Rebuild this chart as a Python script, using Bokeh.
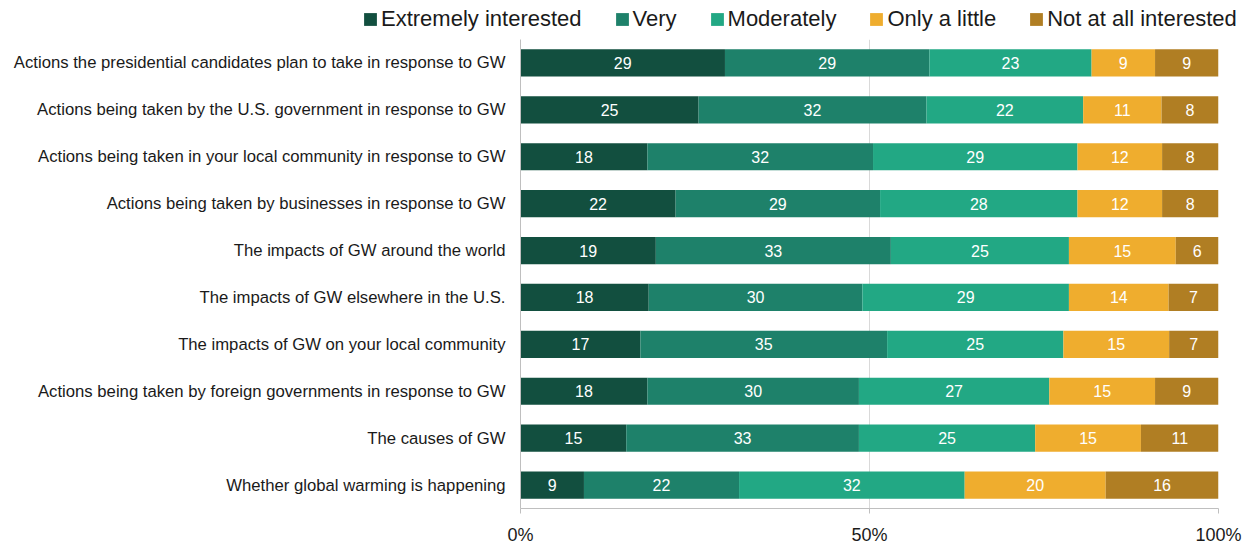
import numpy as np
from bokeh.plotting import figure
from bokeh.layouts import column
from bokeh.models import ColumnDataSource, Range1d, FactorRange, FixedTicker
from bokeh.core.properties import value
from bokeh.embed import file_html
from bokeh.resources import INLINE

categories = [
    "Actions the presidential candidates plan to take in response to GW",
    "Actions being taken by the U.S. government in response to GW",
    "Actions being taken in your local community in response to GW",
    "Actions being taken by businesses in response to GW",
    "The impacts of GW around the world",
    "The impacts of GW elsewhere in the U.S.",
    "The impacts of GW on your local community",
    "Actions being taken by foreign governments in response to GW",
    "The causes of GW",
    "Whether global warming is happening",
]
extremely = [29, 25, 18, 22, 19, 18, 17, 18, 15, 9]
very = [29, 32, 32, 29, 33, 30, 35, 30, 33, 22]
moderately = [23, 22, 29, 28, 25, 29, 25, 27, 25, 32]
only_a_little = [9, 11, 12, 12, 15, 14, 15, 15, 15, 20]
not_at_all = [9, 8, 8, 8, 6, 7, 7, 9, 11, 16]
series_names = ["Extremely interested", "Very", "Moderately", "Only a little", "Not at all interested"]
colors = ["#124f3f", "#1e816a", "#22a884", "#efad2e", "#b07e23"]
x_ticks = [0, 50, 100]
x_tick_labels = ["0%", "50%", "100%"]

FONT = "Liberation Sans"
W = 1247

series = [extremely, very, moderately, only_a_little, not_at_all]
vals = np.array(series, dtype=float)          # shape (5, 10)
shares = vals / vals.sum(axis=0) * 100.0      # each row drawn to 100%

# ---------- legend strip (top) ----------
leg = figure(
    width=W, height=39, x_range=Range1d(0, 1), y_range=Range1d(0, 1),
    output_backend="svg", toolbar_location=None,
    x_axis_location=None, y_axis_location=None,
    min_border_left=0, min_border_right=0, min_border_top=0, min_border_bottom=0,
)
leg.frame_align = False
leg.outline_line_color = None
leg.xgrid.grid_line_color = None
leg.ygrid.grid_line_color = None
for name, color in zip(series_names, colors):
    # off-range proxy renderer, only used to give the legend its swatch
    leg.hbar(y=[-5], left=[-5], right=[-4], height=0.5, fill_color=color,
             line_color=None, legend_label=name)
lg = leg.legend[0]
lg.orientation = "horizontal"
lg.location = (362, 7)
lg.label_text_font = FONT
lg.label_text_font_size = "22px"
lg.label_text_color = "#1a1a1a"
lg.glyph_width = 16
lg.glyph_height = 16
lg.label_standoff = 3
lg.spacing = 32
lg.padding = 0
lg.margin = 0
lg.border_line_color = None
lg.background_fill_alpha = 0

# ---------- main chart ----------
p = figure(
    width=W, height=508,
    x_range=Range1d(0, 100),
    y_range=FactorRange(factors=list(reversed(categories))),
    output_backend="svg", toolbar_location=None,
    min_border_left=520, min_border_right=29,
    min_border_top=0, min_border_bottom=39,
)
p.frame_align = False
p.outline_line_color = None

left = np.zeros(len(categories))
for name, color, sh, raw in zip(series_names, colors, shares, series):
    right = left + sh
    src = ColumnDataSource(dict(
        y=categories, left=left.copy(), right=right.copy(),
        xc=(left + right) / 2.0, lab=[str(v) for v in raw],
    ))
    p.hbar(y="y", left="left", right="right", height=0.58, source=src,
           fill_color=color, line_color=None)
    p.text(x="xc", y="y", text="lab", source=src, text_color="white",
           text_align="center", text_baseline="middle",
           text_font=value(FONT), text_font_size="16px")
    left = right

p.xaxis.ticker = FixedTicker(ticks=x_ticks)
p.xaxis.major_label_overrides = {t: l for t, l in zip(x_ticks, x_tick_labels)}
p.xaxis.axis_line_color = "#bfbfbf"
p.xaxis.major_tick_line_color = "#bfbfbf"
p.xaxis.major_tick_in = 0
p.xaxis.major_tick_out = 5
p.xaxis.minor_tick_line_color = None
p.xaxis.major_label_standoff = 11
p.xaxis.major_label_text_font = FONT
p.xaxis.major_label_text_font_size = "18px"
p.xaxis.major_label_text_color = "#1a1a1a"

p.yaxis.axis_line_color = "#bfbfbf"
p.yaxis.major_tick_line_color = None
p.yaxis.minor_tick_line_color = None
p.yaxis.major_label_standoff = 9
p.yaxis.major_label_text_font = FONT
p.yaxis.major_label_text_font_size = "16.7px"
p.yaxis.major_label_text_color = "#1a1a1a"

p.xgrid.ticker = FixedTicker(ticks=x_ticks)
p.xgrid.grid_line_color = "#d9d9d9"
p.ygrid.grid_line_color = None

layout = column(leg, p, spacing=0)
open("out.html", "w").write(file_html(layout, INLINE))
